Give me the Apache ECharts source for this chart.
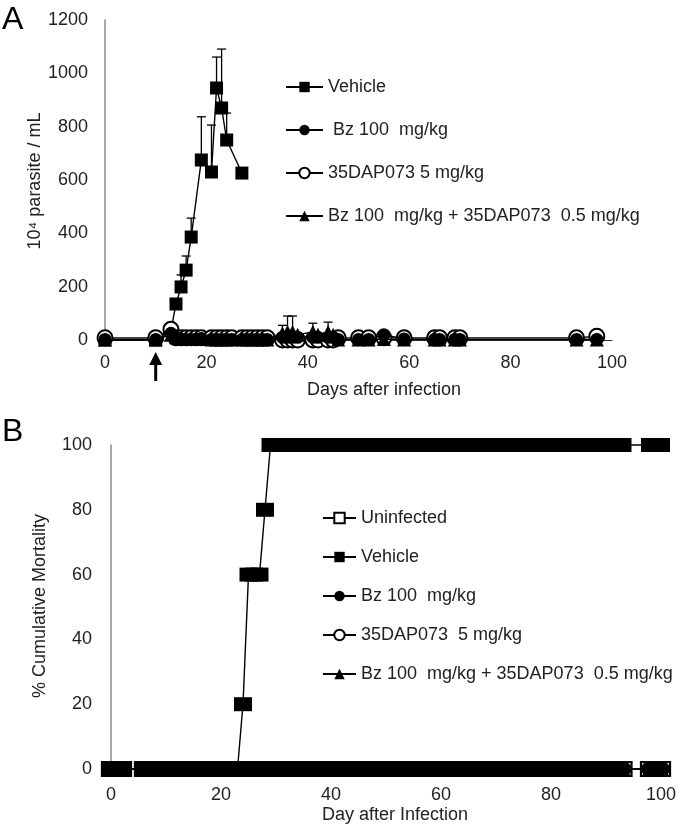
<!DOCTYPE html>
<html><head><meta charset="utf-8">
<script src="https://cdn.jsdelivr.net/npm/echarts@6/dist/echarts.min.js"></script>
<style>html,body{margin:0;padding:0;background:#fff}#c{width:680px;height:827px}</style>
</head><body><div id="c"></div>
<script>
const FONT = '"Liberation Sans", Arial, sans-serif';

// ---------- Panel A: parasitemia (10^4 parasite / mL) ----------
const A_xTicks = [0, 20, 40, 60, 80, 100];
const A_yTicks = [0, 200, 400, 600, 800, 1000, 1200];

const A_vehicle_days = [0, 10, 13, 14, 15, 16, 17, 19, 21, 22, 23, 24, 27];
const A_vehicle      = [0, 0, 35, 135, 199, 262, 386, 675, 630, 945, 870, 750, 626];
const A_vehicle_err  = [0, 0, 0, 0, 45, 53, 71, 162, 176, 116, 221, 101, 0];

const A_days = [0, 10, 13, 14, 15, 16, 17, 18, 19, 21, 22, 23, 24, 25, 27, 28, 29, 30, 31, 32,
                35, 36, 37, 38, 41, 42, 44, 45, 46, 50, 52, 55, 59, 65, 66, 69, 70, 93, 97];
const A_bz    = [2, 2, 25, 10, 4, 2, 2, 2, 6, 2, 2, 2, 2, 2, 2, 2, 2, 2, 2, 2,
                 10, 10, 10, 10, 10, 10, 10, 10, 2, 2, 2, 20, 4, 2, 2, 2, 2, 2, 2];
const A_dap   = [8, 8, 40, 8, 8, 8, 8, 8, 8, 8, 8, 8, 8, 8, 8, 8, 8, 8, 8, 8,
                 0, 0, 0, 0, 0, 0, 0, 0, 8, 8, 8, 8, 8, 8, 8, 8, 8, 8, 14];
const A_combo = [2, 2, 20, 10, 5, 5, 5, 5, 5, 2, 2, 2, 2, 2, 2, 2, 2, 2, 2, 2,
                 25, 30, 30, 20, 30, 20, 30, 20, 2, 2, 2, 4, 2, 2, 2, 2, 2, 2, 2];
const A_combo_err = [0, 0, 0, 0, 0, 0, 0, 0, 0, 0, 0, 0, 0, 0, 0, 0, 0, 0, 0, 0,
                 30, 60, 60, 0, 33, 0, 37, 0, 0, 0, 0, 0, 0, 0, 0, 0, 0, 0, 0];

// ---------- Panel B: % cumulative mortality ----------
const B_xTicks = [0, 20, 40, 60, 80, 100];
const B_yTicks = [0, 20, 40, 60, 80, 100];
const B_days = [0, 1, 2, 6, 7, 8, 9, 10, 11, 12, 13, 14, 15, 16, 17, 18, 19, 20, 21, 22, 23,
  24, 25, 26, 27, 28, 29, 30, 31, 32, 33, 34, 35, 36, 37, 38, 39, 40, 41, 42, 43, 44, 45, 46,
  47, 48, 49, 50, 51, 52, 53, 54, 55, 56, 57, 58, 59, 60, 61, 62, 63, 64, 65, 66, 67, 68, 69,
  70, 71, 72, 73, 74, 75, 76, 77, 78, 79, 80, 81, 82, 83, 84, 85, 86, 87, 88, 89, 90, 91, 92,
  93, 98, 99, 100];
const B_vehicle = [0, 0, 0, 0, 0, 0, 0, 0, 0, 0, 0, 0, 0, 0, 0, 0, 0, 0, 0, 0, 0,
  20, 60, 60, 60, 80, 100, 100, 100, 100, 100, 100, 100, 100, 100, 100, 100, 100, 100, 100, 100, 100, 100, 100,
  100, 100, 100, 100, 100, 100, 100, 100, 100, 100, 100, 100, 100, 100, 100, 100, 100, 100, 100, 100, 100, 100, 100,
  100, 100, 100, 100, 100, 100, 100, 100, 100, 100, 100, 100, 100, 100, 100, 100, 100, 100, 100, 100, 100, 100, 100,
  100, 100, 100, 100];
const B_uninfected = [0, 0, 0, 0, 0, 0, 0, 0, 0, 0, 0, 0, 0, 0, 0, 0, 0, 0, 0, 0, 0,
  0, 0, 0, 0, 0, 0, 0, 0, 0, 0, 0, 0, 0, 0, 0, 0, 0, 0, 0, 0, 0, 0, 0,
  0, 0, 0, 0, 0, 0, 0, 0, 0, 0, 0, 0, 0, 0, 0, 0, 0, 0, 0, 0, 0, 0, 0,
  0, 0, 0, 0, 0, 0, 0, 0, 0, 0, 0, 0, 0, 0, 0, 0, 0, 0, 0, 0, 0, 0, 0,
  0, 0, 0, 0];
const B_bz = [0, 0, 0, 0, 0, 0, 0, 0, 0, 0, 0, 0, 0, 0, 0, 0, 0, 0, 0, 0, 0,
  0, 0, 0, 0, 0, 0, 0, 0, 0, 0, 0, 0, 0, 0, 0, 0, 0, 0, 0, 0, 0, 0, 0,
  0, 0, 0, 0, 0, 0, 0, 0, 0, 0, 0, 0, 0, 0, 0, 0, 0, 0, 0, 0, 0, 0, 0,
  0, 0, 0, 0, 0, 0, 0, 0, 0, 0, 0, 0, 0, 0, 0, 0, 0, 0, 0, 0, 0, 0, 0,
  0, 0, 0, 0];
const B_dap = [0, 0, 0, 0, 0, 0, 0, 0, 0, 0, 0, 0, 0, 0, 0, 0, 0, 0, 0, 0, 0,
  0, 0, 0, 0, 0, 0, 0, 0, 0, 0, 0, 0, 0, 0, 0, 0, 0, 0, 0, 0, 0, 0, 0,
  0, 0, 0, 0, 0, 0, 0, 0, 0, 0, 0, 0, 0, 0, 0, 0, 0, 0, 0, 0, 0, 0, 0,
  0, 0, 0, 0, 0, 0, 0, 0, 0, 0, 0, 0, 0, 0, 0, 0, 0, 0, 0, 0, 0, 0, 0,
  0, 0, 0, 0];
const B_combo = [0, 0, 0, 0, 0, 0, 0, 0, 0, 0, 0, 0, 0, 0, 0, 0, 0, 0, 0, 0, 0,
  0, 0, 0, 0, 0, 0, 0, 0, 0, 0, 0, 0, 0, 0, 0, 0, 0, 0, 0, 0, 0, 0, 0,
  0, 0, 0, 0, 0, 0, 0, 0, 0, 0, 0, 0, 0, 0, 0, 0, 0, 0, 0, 0, 0, 0, 0,
  0, 0, 0, 0, 0, 0, 0, 0, 0, 0, 0, 0, 0, 0, 0, 0, 0, 0, 0, 0, 0, 0, 0,
  0, 0, 0, 0];

// Names
const A_names = ['Vehicle', ' Bz 100  mg/kg', '35DAP073 5 mg/kg', 'Bz 100  mg/kg + 35DAP073  0.5 mg/kg'];
const B_names = ['Uninfected', 'Vehicle ', 'Bz 100  mg/kg', '35DAP073  5 mg/kg', 'Bz 100  mg/kg + 35DAP073  0.5 mg/kg '];

const pairs = (xs, ys) => xs.map((x, i) => [x, ys[i]]);

function lineSeries(name, xi, xs, ys, symbol, size, z, empty) {
  return {
    type: 'line', name, xAxisIndex: xi, yAxisIndex: xi,
    data: pairs(xs, ys), symbol, symbolSize: size, showSymbol: true,
    z, animation: false, clip: false,
    lineStyle: { color: '#000', width: 1.4 },
    itemStyle: empty ? { color: '#000', borderColor: '#000', borderWidth: 1.5 } : { color: '#000', borderWidth: 0 },
    emphasis: { disabled: true }
  };
}

function errSeries(xi, xs, ys, es, capW, z) {
  const data = [];
  xs.forEach((x, i) => { if (es[i] > 0) data.push([x, ys[i], ys[i] + es[i]]); });
  return {
    type: 'custom', xAxisIndex: xi, yAxisIndex: xi, data, z, silent: true, animation: false,
    encode: { x: 0, y: [1, 2] },
    renderItem(params, api) {
      const x = api.value(0);
      const lo = api.coord([x, api.value(1)]);
      const hi = api.coord([x, api.value(2)]);
      const st = { stroke: '#000', lineWidth: 1.3 };
      return { type: 'group', children: [
        { type: 'line', shape: { x1: lo[0], y1: lo[1], x2: hi[0], y2: hi[1] }, style: st },
        { type: 'line', shape: { x1: hi[0] - capW / 2, y1: hi[1], x2: hi[0] + capW / 2, y2: hi[1] }, style: st }
      ]};
    }
  };
}

const axisLabel = { fontFamily: FONT, fontSize: 18, color: '#222' };
const txt = (extra) => Object.assign({ fontFamily: FONT, fontSize: 18, fontWeight: 'normal', fill: '#222' }, extra);

const option = {
  animation: false,
  textStyle: { fontFamily: FONT },
  grid: [
    { left: 105, top: 20, width: 507, height: 320 },
    { left: 111, top: 445, width: 550, height: 324 }
  ],
  xAxis: [
    { gridIndex: 0, type: 'value', min: 0, max: 100, interval: 20,
      axisLine: { show: true, lineStyle: { color: '#333', width: 1.2 } },
      axisTick: { show: false }, splitLine: { show: false },
      axisLabel: { ...axisLabel, margin: 14, formatter: v => A_xTicks.includes(v) ? String(v) : '' } },
    { gridIndex: 1, type: 'value', min: 0, max: 100, interval: 20,
      axisLine: { show: true, lineStyle: { color: '#333', width: 1.2 } },
      axisTick: { show: false }, splitLine: { show: false },
      axisLabel: { ...axisLabel, margin: 17, formatter: v => B_xTicks.includes(v) ? String(v) : '' } }
  ],
  yAxis: [
    { gridIndex: 0, type: 'value', min: 0, max: 1200, interval: 200,
      axisLine: { show: true, lineStyle: { color: '#8a8a8a', width: 1.5 } },
      axisTick: { show: false }, splitLine: { show: false },
      axisLabel: { ...axisLabel, margin: 17, formatter: v => A_yTicks.includes(v) ? String(v) : '' } },
    { gridIndex: 1, type: 'value', min: 0, max: 100, interval: 20,
      axisLine: { show: true, lineStyle: { color: '#8a8a8a', width: 1.5 } },
      axisTick: { show: false }, splitLine: { show: false },
      axisLabel: { ...axisLabel, margin: 19, formatter: v => B_yTicks.includes(v) ? String(v) : '' } }
  ],
  legend: [
    { left: 285, top: 78, padding: 0, orient: 'vertical', itemWidth: 37, itemHeight: 13, itemGap: 25,
      selectedMode: false, data: A_names,
      textStyle: { fontFamily: FONT, fontSize: 18, color: '#222' } },
    { left: 322, top: 509, padding: 0, orient: 'vertical', itemWidth: 33, itemHeight: 13, itemGap: 21,
      selectedMode: false, data: B_names,
      textStyle: { fontFamily: FONT, fontSize: 18, color: '#222' } }
  ],
  graphic: [
    { id: 'lblA', type: 'text', x: 2, y: 4, style: txt({ text: 'A', fontSize: 32, fill: '#000' }) },
    { id: 'lblB', type: 'text', x: 2, y: 416, style: txt({ text: 'B', fontSize: 32, fill: '#000' }) },
    { id: 'ytA', type: 'text', x: 35, y: 181, rotation: Math.PI / 2,
      style: txt({ text: '10⁴ parasite / mL', align: 'center', verticalAlign: 'middle' }) },
    { id: 'xtA', type: 'text', x: 384, y: 390,
      style: txt({ text: 'Days after infection', align: 'center', verticalAlign: 'middle' }) },
    { id: 'ytB', type: 'text', x: 40, y: 606, rotation: Math.PI / 2,
      style: txt({ text: '% Cumulative Mortality', align: 'center', verticalAlign: 'middle' }) },
    { id: 'xtB', type: 'text', x: 395, y: 815,
      style: txt({ text: 'Day after Infection', align: 'center', verticalAlign: 'middle' }) }
  ],
  series: [
    // Panel A: vehicle lowest at baseline, open circles, then filled circles and triangles on top
    lineSeries(A_names[0], 0, A_vehicle_days, A_vehicle, 'rect', 13, 1, false),
    errSeries(0, A_vehicle_days, A_vehicle, A_vehicle_err, 9, 1),
    lineSeries(A_names[2], 0, A_days, A_dap, 'emptyCircle', 15, 2, true),
    lineSeries(A_names[1], 0, A_days, A_bz, 'circle', 13, 3, false),
    lineSeries(A_names[3], 0, A_days, A_combo, 'triangle', 14, 4, false),
    errSeries(0, A_days, A_combo, A_combo_err, 9, 4),
    // Panel B
    lineSeries(B_names[0], 1, B_days, B_uninfected, 'emptyRect', [18, 14], 2, true),
    lineSeries(B_names[3], 1, B_days, B_dap, 'emptyCircle', [16, 14], 2, true),
    lineSeries(B_names[2], 1, B_days, B_bz, 'circle', [16, 14], 3, false),
    lineSeries(B_names[4], 1, B_days, B_combo, 'triangle', [16, 14], 4, false),
    lineSeries(B_names[1], 1, B_days, B_vehicle, 'rect', [18, 14], 5, false)
  ]
};

const chart = echarts.init(document.getElementById('c'), null, { renderer: 'canvas' });
chart.setOption(option);

// Treatment-start arrow under day 10 of panel A
const p = chart.convertToPixel({ xAxisIndex: 0, yAxisIndex: 0 }, [10, 0]);
chart.setOption({ graphic: [
  { id: 'arrowShaft', type: 'line', shape: { x1: p[0], y1: p[1] + 22, x2: p[0], y2: p[1] + 41 }, style: { stroke: '#000', lineWidth: 3 } },
  { id: 'arrowHead', type: 'polygon', shape: { points: [[p[0], p[1] + 12], [p[0] - 6.5, p[1] + 25], [p[0] + 6.5, p[1] + 25]] }, style: { fill: '#000' } }
]});
</script>
</body></html>
